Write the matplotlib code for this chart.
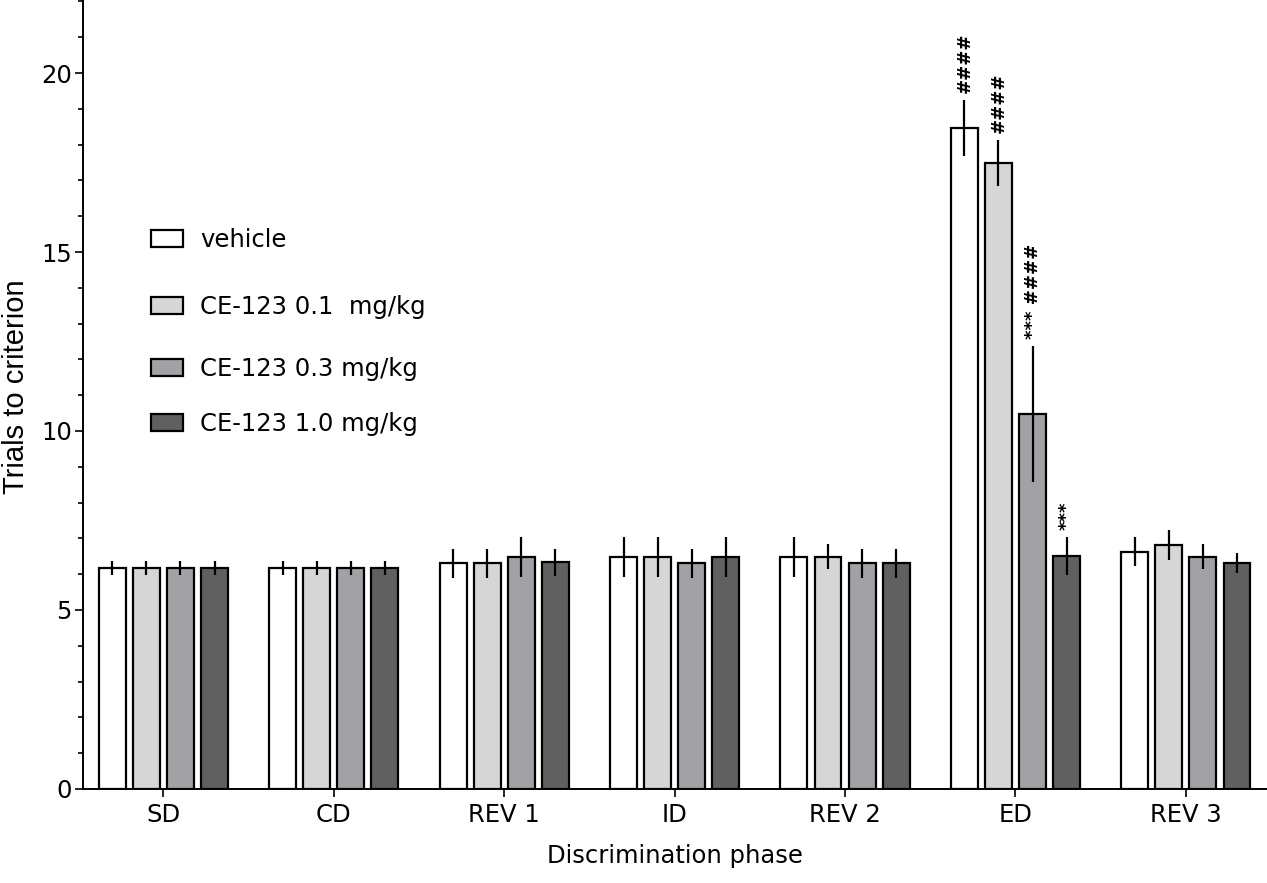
import numpy as np
import matplotlib
matplotlib.use('Agg')
import matplotlib.pyplot as plt
from matplotlib.patches import Patch
from matplotlib.legend import Legend
from matplotlib.ticker import MultipleLocator

# data
phases = ['SD', 'CD', 'REV 1', 'ID', 'REV 2', 'ED', 'REV 3']
labels = ['vehicle', 'CE-123 0.1  mg/kg', 'CE-123 0.3 mg/kg', 'CE-123 1.0 mg/kg']

vehicle = [6.17, 6.17, 6.30, 6.49, 6.49, 18.46, 6.63]
vehicle_sem = [0.20, 0.20, 0.40, 0.56, 0.56, 0.78, 0.40]
ce01 = [6.17, 6.17, 6.30, 6.49, 6.49, 17.49, 6.82]
ce01_sem = [0.20, 0.20, 0.40, 0.56, 0.35, 0.64, 0.42]
ce03 = [6.17, 6.17, 6.49, 6.30, 6.30, 10.47, 6.49]
ce03_sem = [0.20, 0.20, 0.56, 0.40, 0.40, 1.90, 0.35]
ce10 = [6.17, 6.17, 6.33, 6.49, 6.30, 6.51, 6.30]
ce10_sem = [0.20, 0.20, 0.37, 0.56, 0.40, 0.53, 0.28]

# significance marks over the ED bars
ed_marks = ['####', '####', '*** ####', '***']

means = [vehicle, ce01, ce03, ce10]
sems = [vehicle_sem, ce01_sem, ce03_sem, ce10_sem]
colors = ['#ffffff', '#d6d6d6', '#a2a2a6', '#606060']

plt.rcParams['font.family'] = 'DejaVu Sans'

fig = plt.figure(figsize=(12.67, 8.83), dpi=100)
ax = fig.add_axes([0.0655, 0.1065, 0.9345, 0.8935])

x = np.arange(len(phases))
width = 0.158
step = 0.2
for i in range(4):
  xs = x + (i - 1.5) * step
  ax.bar(xs, means[i], width, color=colors[i], edgecolor='black', linewidth=1.6, zorder=2)
  ax.errorbar(xs, means[i], yerr=sems[i], fmt='none', ecolor='black', elinewidth=1.6, capsize=0, zorder=3)

ed = phases.index('ED')
for i in range(4):
  top = means[i][ed] + sems[i][ed]
  ax.annotate(ed_marks[i], (ed + (i - 1.5) * step, top), xytext=(0, 5), textcoords='offset points',
              rotation=90, ha='center', va='bottom', fontsize=13, fontweight='bold')

ax.set_xlim(-0.472, 6.476)
ax.set_ylim(0, 22.04)
ax.set_xticks(x)
ax.set_xticklabels(phases)
ax.yaxis.set_major_locator(MultipleLocator(5))
ax.yaxis.set_minor_locator(MultipleLocator(1))
ax.tick_params(axis='both', which='major', direction='out', length=6, width=1.2, labelsize=17.5)
ax.tick_params(axis='y', which='major', pad=2)
ax.tick_params(axis='x', which='major', pad=4)
ax.tick_params(axis='y', which='minor', direction='out', length=3.5, width=1.2)
for s in ['top', 'right']:
  ax.spines[s].set_visible(False)
for s in ['left', 'bottom']:
  ax.spines[s].set_linewidth(1.4)

ax.set_xlabel('Discrimination phase', fontsize=17.5, labelpad=12)
ax.set_ylabel('Trials to criterion', fontsize=21, family=['Liberation Sans Narrow', 'Liberation Sans'])
ax.yaxis.set_label_coords(-0.045, 0.51)

# one legend per entry so the uneven spacing can be kept
leg_y = [0.6958, 0.6109, 0.5323, 0.4626]
for i in range(4):
  h = Patch(facecolor=colors[i], edgecolor='black', linewidth=1.6)
  leg = Legend(ax, [h], [labels[i]], loc='center left', bbox_to_anchor=(0.0574, leg_y[i]),
               frameon=False, fontsize=17.5, handlelength=1.32, handleheight=0.7,
               handletextpad=0.7, borderpad=0, borderaxespad=0)
  ax.add_artist(leg)

fig.savefig('out.png', dpi=100)
